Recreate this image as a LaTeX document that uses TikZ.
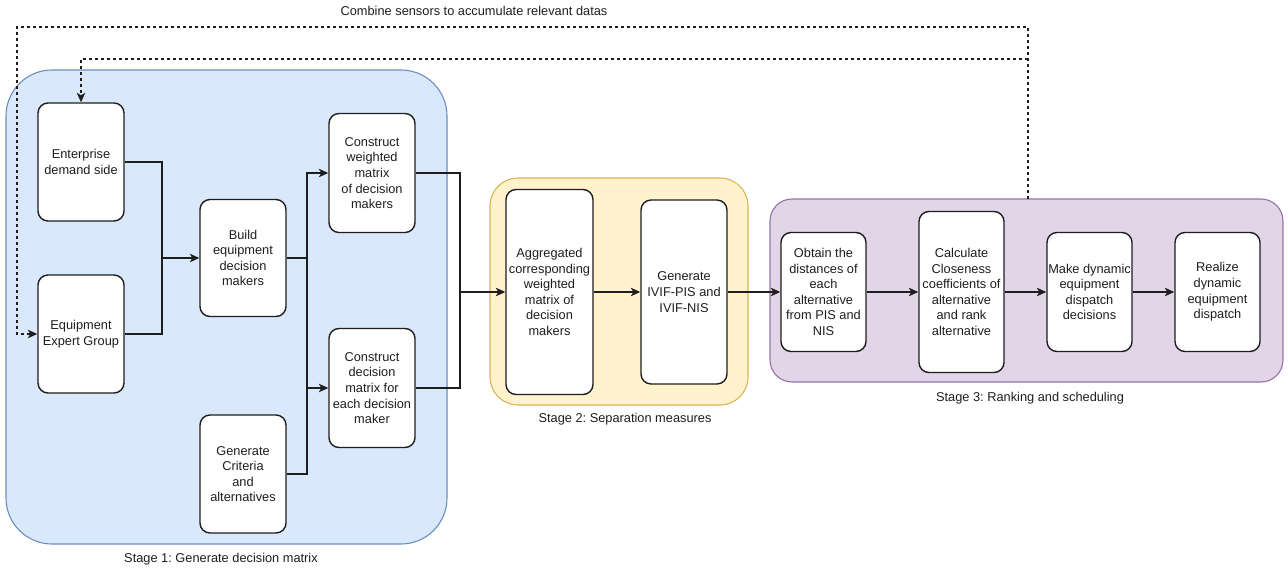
\documentclass[tikz,border=0pt]{standalone}
\usepackage{fontspec}
\setmainfont{Liberation Sans}
\usetikzlibrary{arrows.meta}
\frenchspacing
\definecolor{blueFill}{HTML}{DAE8FC}
\definecolor{blueLine}{HTML}{6C8EBF}
\definecolor{yellowFill}{HTML}{FFF2CC}
\definecolor{yellowLine}{HTML}{D6B656}
\definecolor{purpleFill}{HTML}{E1D5E7}
\definecolor{purpleLine}{HTML}{9673A6}
\definecolor{ink}{HTML}{1E1E1E}
\begin{document}
\begin{tikzpicture}[x=1pt,y=-1pt,
  txt/.style={font=\fontsize{12.8}{15.6}\selectfont, text=ink},
  stepbox/.style={txt, draw=ink, fill=white, line width=1.4pt, rounded corners=10pt,
    align=center, inner sep=1pt, minimum width=#1},
  stepbox/.default=86pt,
  stage/.style={line width=1.1pt},
  conn/.style={draw=ink, line width=1.2pt},
  arr/.style={conn, -{Stealth[length=9.5pt,width=8.5pt,inset=2.5pt]}},
  feedback/.style={arr, line width=1.1pt, dash pattern=on 3pt off 3pt},
]
\useasboundingbox (0,0) rectangle (1288,572);

% stage containers
\draw[stage, draw=blueLine, fill=blueFill, rounded corners=46pt] (6,70) rectangle (447,544);
\draw[stage, draw=yellowLine, fill=yellowFill, rounded corners=28pt] (490,178) rectangle (748,405);
\draw[stage, draw=purpleLine, fill=purpleFill, rounded corners=22pt] (770,199) rectangle (1283,382);

\node[txt] (lab1) at (221,559) {Stage 1: Generate decision matrix};
\node[txt] (lab2) at (625,419) {Stage 2: Separation measures};
\node[txt] (lab3) at (1030,398) {Stage 3: Ranking and scheduling};
\node[txt] (labfb) at (474,11) {Combine sensors to accumulate relevant datas};

% stage 1 steps
\node[stepbox, minimum height=118pt] (ent) at (81,162) {Enterprise\\demand side};
\node[stepbox, minimum height=118pt] (eeg) at (81,334) {Equipment\\Expert Group};
\node[stepbox, minimum height=117pt] (build) at (243,258) {Build\\equipment\\decision\\makers};
\node[stepbox, minimum height=119pt] (cwm) at (372,173) {Construct\\weighted\\matrix\\of decision\\makers};
\node[stepbox, minimum height=119pt] (cdm) at (372,388) {Construct\\decision\\matrix for\\each decision\\maker};
\node[stepbox, minimum height=118pt] (gen) at (243,474) {Generate\\Criteria\\and\\alternatives};

% stage 2 steps
\node[stepbox=87pt, minimum height=205pt] (agg) at (549.5,292) {Aggregated\\corresponding\\weighted\\matrix of\\decision\\makers};
\node[stepbox, minimum height=184pt] (ivif) at (684,292) {Generate\\IVIF-PIS and\\IVIF-NIS};

% stage 3 steps
\node[stepbox=85pt, minimum height=119pt] (obt) at (823.5,292) {Obtain the\\distances of\\each\\alternative\\from PIS and\\NIS};
\node[stepbox=85pt, minimum height=161pt] (calc) at (961.5,292) {Calculate\\Closeness\\coefficients of\\alternative\\and rank\\alternative};
\node[stepbox=85pt, minimum height=119pt] (make) at (1089.5,292) {Make dynamic\\equipment\\dispatch\\decisions};
\node[stepbox=85pt, minimum height=119pt] (real) at (1217.5,292) {Realize\\dynamic\\equipment\\dispatch};

% junction points
\coordinate (j1) at (162,258);
\coordinate (j2) at (307,258);
\coordinate (j3) at (460,292);

% stage 1 flow
\draw[conn] (ent.east) -| (j1);
\draw[conn] (eeg.east) -| (j1);
\draw[arr] (j1) -- (build.west);
\draw[conn] (build.east) -- (j2);
\draw[arr] (j2) |- (cwm.west);
\draw[arr] (j2) |- (cdm.west);
\draw[conn] (gen.east) -| (j2);
\draw[conn] (cwm.east) -| (j3);
\draw[conn] (cdm.east) -| (j3);
\draw[arr] (j3) -- (agg.west);

% stage 2 and 3 flow
\draw[arr] (agg.east) -- (ivif.west);
\draw[arr] (ivif.east) -- (obt.west);
\draw[arr] (obt.east) -- (calc.west);
\draw[arr] (calc.east) -- (make.west);
\draw[arr] (make.east) -- (real.west);

% sensor feedback loops
\coordinate (fb) at (1028,199);
\coordinate (fbtop) at (1028,27);
\coordinate (fbmid) at (1028,59);
\draw[feedback] (fb) -- (fbtop) -- (17,27) |- (eeg.west);
\draw[feedback] (fbmid) -| (ent.north);
\end{tikzpicture}
\end{document}
